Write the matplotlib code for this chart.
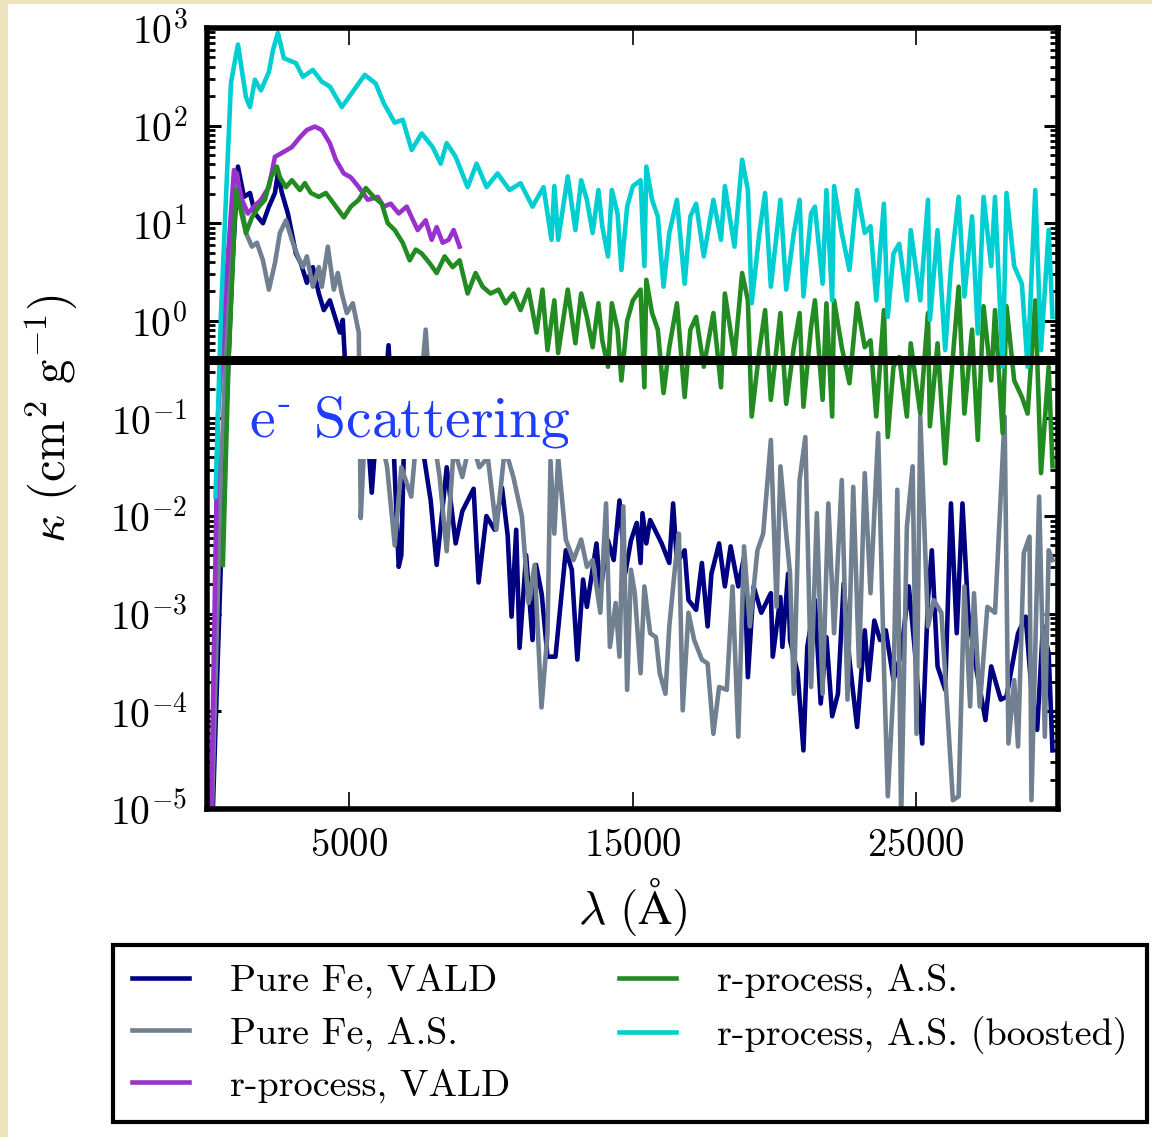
import numpy as np
import matplotlib
matplotlib.use('Agg')
import matplotlib.pyplot as plt
from matplotlib.patches import Rectangle
from matplotlib.ticker import LogLocator, NullLocator

plt.rcParams['mathtext.fontset'] = 'cm'
plt.rcParams['font.family'] = 'serif'
plt.rcParams['font.serif'] = ['cmr10']
plt.rcParams['axes.formatter.use_mathtext'] = True

# wavelength (Angstrom) and log10 kappa (cm^2/g)
fe_vald_lam = [150, 600, 900, 1091, 1302, 1514, 1690, 1971, 2182, 2394, 2499, 2640, 2851, 3133, 3309, 3520,
               3731, 3942, 4118, 4330, 4541, 4682, 4787, 4950, 5200, 5450, 5650, 5808, 5950, 6200, 6400, 6550,
               6758, 6850, 6950, 7300, 7600, 7885, 8096, 8250, 8450, 8765, 9000, 9398, 9574, 9850, 10138, 10400,
               10600, 10736, 10900, 11018, 11250, 11475, 11600, 11800, 12003, 12285, 12649, 12860, 13055, 13257,
               13392, 13730, 13865, 14136, 14338, 14541, 14743, 14946, 15149, 15284, 15351, 15487, 15622, 16027,
               16297, 16432, 16567, 16838, 16973, 17243, 17446, 17648, 17783, 18053, 18256, 18459, 18729, 18932,
               19067, 19270, 19540, 19877, 19945, 20215, 20283, 20485, 20553, 20823, 21026, 21161, 21431, 21634,
               21836, 22039, 22242, 22444, 22647, 22917, 23187, 23322, 23525, 23728, 23930, 24200, 24470, 24740,
               24943, 25213, 25416, 25552, 25754, 26024, 26227, 26430, 26632, 26835, 27105, 27442, 27645, 27983,
               28185, 28591, 28861, 29064, 29266, 29469, 29671, 29806]
fe_vald_logk = [-5.5, -1.5, 0.6, 1.58, 1.27, 1.31, 1.10, 1.00, 1.17, 1.31, 1.51, 1.31, 1.10, 0.69, 0.59, 0.39,
                0.55, 0.28, 0.11, 0.21, 0.01, -0.12, 0.01, -0.9, -0.8, -1.2, -1.1, -1.76, -1.2, -1.0, -0.25, -1.1,
                -2.52, -2.4, -1.2, -1.0, -1.3, -1.84, -2.5, -2.07, -1.5, -2.28, -1.95, -1.72, -2.68, -2.0, -2.14, -1.71,
                -2.2, -3.03, -2.14, -3.35, -2.4, -3.27, -2.5, -2.8, -3.44, -3.44, -2.35, -2.55, -3.47, -2.65,
                -2.93, -2.28, -2.76, -2.25, -2.45, -1.84, -2.59, -2.25, -2.07, -2.48, -1.97, -2.28, -2.04, -2.28,
                -2.48, -1.87, -2.48, -2.35, -2.86, -2.96, -2.48, -3.13, -2.59, -2.28, -2.72, -2.31, -2.72, -2.42,
                -3.65, -2.72, -2.99, -2.79, -3.44, -2.83, -3.34, -2.59, -3.27, -3.61, -4.40, -3.34, -2.86, -3.92,
                -3.24, -4.05, -3.82, -2.69, -3.47, -4.16, -3.17, -3.68, -3.07, -3.27, -3.17, -3.68, -3.41, -2.72,
                -3.34, -4.33, -2.86, -2.35, -3.54, -3.78, -1.87, -3.20, -1.87, -2.99, -3.54, -4.09, -3.54, -3.88,
                -3.85, -3.20, -3.03, -3.78, -4.19, -3.13, -3.41, -4.40]

fe_as_lam = [130, 500, 850, 1050, 1373, 1584, 1760, 1971, 2182, 2394, 2570, 2781, 2992, 3203, 3379, 3520,
             3731, 3942, 4048, 4259, 4470, 4611, 4752, 4928, 5139, 5350, 5420, 5550, 5800, 6000, 6350, 6618,
             6850, 7200, 7500, 7709, 7900, 8200, 8450, 8700, 9000, 9300, 9600, 9900, 10200, 10500, 10800, 11100,
             11334, 11550, 11792, 12003, 12109, 12244, 12379, 12649, 12920, 13190, 13392, 13595, 13865, 14068,
             14203, 14406, 14541, 14676, 14811, 14946, 15081, 15284, 15419, 15622, 15824, 15960, 16162, 16297,
             16500, 16635, 16770, 16973, 17175, 17446, 17648, 17851, 18053, 18323, 18526, 18729, 18932, 19134,
             19405, 19607, 19877, 20080, 20215, 20418, 20553, 20688, 20891, 21093, 21296, 21498, 21701, 21904,
             22106, 22377, 22579, 22782, 22985, 23187, 23390, 23660, 23863, 24000, 24200, 24336, 24470, 24673,
             24876, 25011, 25146, 25416, 25619, 25889, 26294, 26497, 26700, 26902, 27038, 27240, 27510, 27780,
             28118, 28253, 28456, 28591, 28794, 28996, 29064, 29334, 29536, 29671, 29806]
fe_as_logk = [-5.5, -1.5, 1.0, 1.51, 0.90, 0.76, 0.80, 0.62, 0.32, 0.59, 0.90, 1.03, 0.83, 0.66, 0.55, 0.66,
              0.35, 0.55, 0.35, 0.76, 0.32, 0.49, 0.28, 0.08, 0.18, -0.12, -2.02, -1.2, -1.3, -1.0, -1.5, -2.3,
              -1.5, -1.8, -0.8, -0.09, -1.0, -1.6, -2.36, -1.3, -1.6, -1.2, -1.5, -1.4, -2.14, -1.3, -1.6, -2.0,
              -2.89, -2.5, -3.96, -3.2, -1.43, -2.18, -1.4, -2.24, -2.45, -2.24, -2.52, -2.45, -2.99, -1.87,
              -3.34, -2.89, -3.44, -1.90, -3.78, -2.55, -2.79, -3.61, -2.72, -3.20, -3.24, -3.61, -3.82, -3.13,
              -2.52, -2.18, -3.99, -2.99, -3.27, -3.47, -3.51, -4.23, -3.75, -3.78, -2.72, -4.26, -2.31, -3.13,
              -2.35, -2.18, -1.22, -2.93, -1.49, -2.18, -2.59, -3.82, -1.63, -1.19, -3.75, -1.97, -3.82, -1.87,
              -3.20, -1.63, -3.88, -1.70, -3.54, -1.56, -2.79, -1.15, -3.54, -4.87, -3.75, -1.73, -5.11, -2.11,
              -1.49, -4.23, -0.98, -3.13, -2.86, -2.99, -4.91, -4.87, -2.72, -3.95, -2.79, -3.95, -2.93, -2.99,
              -0.98, -4.33, -3.68, -4.36, -2.38, -2.21, -4.91, -1.80, -4.26, -2.35, -2.45]

rp_vald_lam = [120, 380, 650, 950, 1021, 1232, 1443, 1654, 1901, 2182, 2394, 2640, 2992, 3274, 3520, 3802,
               4048, 4330, 4541, 4822, 5069, 5350, 5667, 6019, 6230, 6477, 6758, 7040, 7216, 7427, 7709, 7920,
               8096, 8307, 8518, 8694, 8906]
rp_vald_logk = [-5.5, -1.0, 0.3, 1.545, 1.51, 1.24, 1.10, 1.17, 1.24, 1.37, 1.68, 1.72, 1.78, 1.88, 1.955, 1.99,
                1.955, 1.82, 1.65, 1.51, 1.47, 1.37, 1.24, 1.27, 1.17, 1.20, 1.10, 1.17, 1.06, 0.93, 1.03, 0.83,
                0.96, 0.80, 0.83, 0.93, 0.76]

rp_as_lam = [560, 760, 1021, 1162, 1373, 1584, 1830, 2042, 2253, 2464, 2570, 2781, 2992, 3274, 3450, 3661,
             3942, 4189, 4470, 4822, 5069, 5350, 5597, 5878, 6160, 6371, 6618, 6899, 7146, 7357, 7568, 7850,
             8096, 8378, 8659, 8906, 9187, 9469, 9715, 9997, 10278, 10525, 10806, 11053, 11334, 11616, 11827, 12003,
             12244, 12379, 12717, 12987, 13190, 13392, 13595, 13798, 13933, 14136, 14271, 14473, 14608, 14811,
             15014, 15284, 15419, 15487, 15689, 15892, 16094, 16297, 16567, 16838, 17040, 17243, 17513, 17851,
             18120, 18256, 18594, 18864, 19067, 19202, 19472, 19675, 19877, 20215, 20418, 20688, 20891, 21026,
             21296, 21431, 21701, 21836, 22039, 22106, 22377, 22647, 22917, 23187, 23390, 23593, 23863, 23998,
             24200, 24403, 24673, 24808, 25146, 25416, 25484, 25754, 26024, 26227, 26497, 26700, 26970, 27173,
             27375, 27645, 27780, 28050, 28185, 28456, 28726, 28928, 29199, 29401, 29671, 29806]
rp_as_logk = [-2.5, -0.4, 1.34, 1.17, 0.90, 1.06, 1.17, 1.24, 1.47, 1.58, 1.47, 1.37, 1.44, 1.34, 1.41, 1.31,
              1.27, 1.31, 1.20, 1.06, 1.17, 1.24, 1.36, 1.27, 1.20, 1.00, 0.93, 0.80, 0.62, 0.73, 0.69, 0.59,
              0.49, 0.66, 0.55, 0.62, 0.28, 0.49, 0.35, 0.28, 0.32, 0.18, 0.28, 0.11, 0.32, -0.12, 0.32, -0.30,
              0.21, -0.33, 0.32, -0.23, 0.28, 0.04, -0.27, 0.18, -0.20, -0.47, 0.18, -0.09, -0.61, 0.0,
              0.21, 0.32, -0.68, 0.42, 0.08, -0.09, -0.74, -0.27, 0.18, -0.78, -0.09, 0.04, -0.47, 0.08,
              -0.68, 0.28, -0.37, 0.49, 0.21, -0.98, -0.30, 0.11, -0.81, 0.08, -0.85, -0.27, 0.08, -0.88,
              -0.06, 0.21, -0.81, 0.18, -0.98, 0.21, -0.27, -0.64, 0.18, -0.27, -0.20, -0.98, 0.11, -1.19,
              -0.47, -0.37, -0.98, -0.23, -0.95, 0.08, -1.08, -0.23, -1.46, -0.61, 0.35, -0.95, -0.09, -1.22,
              0.15, -0.61, 0.11, -1.15, 0.15, -0.61, -0.78, -0.95, 0.21, -1.56, -0.47, -1.49]

rp_boost_lam = [300, 493, 845, 1091, 1373, 1514, 1690, 1901, 2182, 2323, 2499, 2710, 3133, 3379, 3731, 4048,
                4330, 4752, 4998, 5562, 5949, 6230, 6618, 6899, 7216, 7568, 7955, 8237, 8448, 8765, 9187, 9504,
                9856, 10243, 10666, 11053, 11475, 11862, 12144,
                12244, 12379, 12717, 12987, 13190, 13392, 13595, 13798, 13933, 14136, 14271, 14473, 14608, 14811,
                15014, 15284, 15419, 15487, 15689, 15892, 16094, 16297, 16567, 16838, 17040, 17243, 17513, 17851,
                18120, 18256, 18594, 18864, 19067, 19202, 19472, 19675, 19877, 20215, 20418, 20688, 20891, 21026,
                21296, 21431, 21701, 21836, 22039, 22106, 22377, 22647, 22917, 23187, 23390, 23593, 23863, 23998,
                24200, 24403, 24673, 24808, 25146, 25416, 25484, 25754, 26024, 26227, 26497, 26700, 26970, 27173,
                27375, 27645, 27780, 28050, 28185, 28456, 28726, 28928, 29199, 29401, 29671, 29806]
rp_boost_logk = [-1.8, 0.08, 2.44, 2.83, 2.29, 2.19, 2.47, 2.36, 2.55, 2.77, 2.95, 2.69, 2.64, 2.50, 2.57, 2.45,
                 2.40, 2.19, 2.29, 2.52, 2.43, 2.23, 2.03, 2.06, 1.75, 1.92, 1.78, 1.61, 1.82, 1.68, 1.37, 1.61,
                 1.37, 1.51, 1.34, 1.41, 1.17, 1.37, 0.83,
                 1.38, 0.83, 1.48, 0.93, 1.44, 1.24, 0.90, 1.34, 0.97, 0.66, 1.34, 1.10, 0.52, 1.17,
                 1.38, 1.44, 0.56, 1.58, 1.24, 1.07, 0.35, 0.90, 1.24, 0.38, 1.07, 1.20, 0.66, 1.24,
                 0.83, 1.38, 0.76, 1.65, 1.34, 0.18, 0.90, 1.31, 0.35, 1.24, 0.32, 0.90, 1.24, 0.25,
                 1.10, 1.17, 0.38, 1.34, 0.21, 1.38, 0.90, 0.52, 1.34, 0.90, 0.97, 0.21, 1.20, 0.04,
                 0.69, 0.79, 0.21, 0.93, 0.21, 1.24, 0.01, 0.93, -0.30, 0.56, 1.27, 0.25, 1.07, -0.13,
                 1.27, 0.56, 1.27, -0.47, 1.31, 0.56, 0.38, -0.47, 1.34, -0.30, 0.93, 0.04]

labels = ['Pure Fe, VALD', 'Pure Fe, A.S.', 'r-process, VALD', 'r-process, A.S.', 'r-process, A.S. (boosted)']
colors = ['navy', 'slategray', 'darkorchid', 'forestgreen', 'darkturquoise']
series = [(fe_vald_lam, fe_vald_logk), (fe_as_lam, fe_as_logk), (rp_vald_lam, rp_vald_logk),
          (rp_as_lam, rp_as_logk), (rp_boost_lam, rp_boost_logk)]
kappa_es = 0.4

fig = plt.figure(figsize=(11.52, 11.37), dpi=100)
fig.patch.set_facecolor('#ede3bd')
fig.add_artist(Rectangle((8/1152, 0), 1, 1 - 4/1137, transform=fig.transFigure,
                         facecolor='white', edgecolor='none', zorder=-1))
ax = fig.add_axes([0.1797, 0.2885, 0.7387, 0.6869])

handles = []
for (lam, logk), c, lab in zip(series, colors, labels):
    h, = ax.plot(lam, 10**np.array(logk), color=c, lw=3.3, label=lab, zorder=2)
    handles.append(h)

ax.set_yscale('log')
ax.set_xlim(0, 30000)
ax.set_ylim(1e-5, 1e3)

# white patch behind the label, then the electron scattering level on top
ax.fill_between([845, 12850], 0.0384, kappa_es, color='white', lw=0, zorder=3)
ax.axhline(kappa_es, color='black', lw=6.5, zorder=5)
ax.text(1478, 0.065, r'e$^{\text{-}}$ Scattering', color='#1f3dff', fontsize=41.5,
        ha='left', va='baseline', zorder=4)

ax.set_xticks([5000, 15000, 25000])
ax.xaxis.set_minor_locator(NullLocator())
ax.yaxis.set_major_locator(LogLocator(base=10, numticks=20))
ax.yaxis.set_minor_locator(LogLocator(base=10, subs=np.arange(2, 10), numticks=20))
ax.tick_params(axis='both', which='both', direction='in', top=True, right=True)
ax.tick_params(axis='x', which='major', length=12, width=1.2, labelsize=28, pad=14)
ax.tick_params(axis='y', which='major', length=10, width=2.2, labelsize=28.5, pad=14)
ax.tick_params(axis='y', which='minor', length=6, width=2.0)
for s in ax.spines.values():
    s.set_linewidth(4)

ax.set_xlabel(r'$\lambda\ (\mathrm{\AA})$', fontsize=34, labelpad=8)
ax.set_ylabel(r'$\kappa\ (\mathrm{cm}^2\ \mathrm{g}^{-1})$', fontsize=35, labelpad=22)

leg = fig.legend(handles, labels, ncol=2, loc='upper left', bbox_to_anchor=(0.098, 0.0106, 0.8977, 0.1583),
                 mode='expand', fontsize=27.5, frameon=True, fancybox=False, edgecolor='black',
                 framealpha=1, borderaxespad=0, handlelength=1.5, handletextpad=1.07, labelspacing=0.47,
                 borderpad=0.5)
leg.get_frame().set_linewidth(3)

fig.savefig('out.png', dpi=100, facecolor=fig.get_facecolor())
